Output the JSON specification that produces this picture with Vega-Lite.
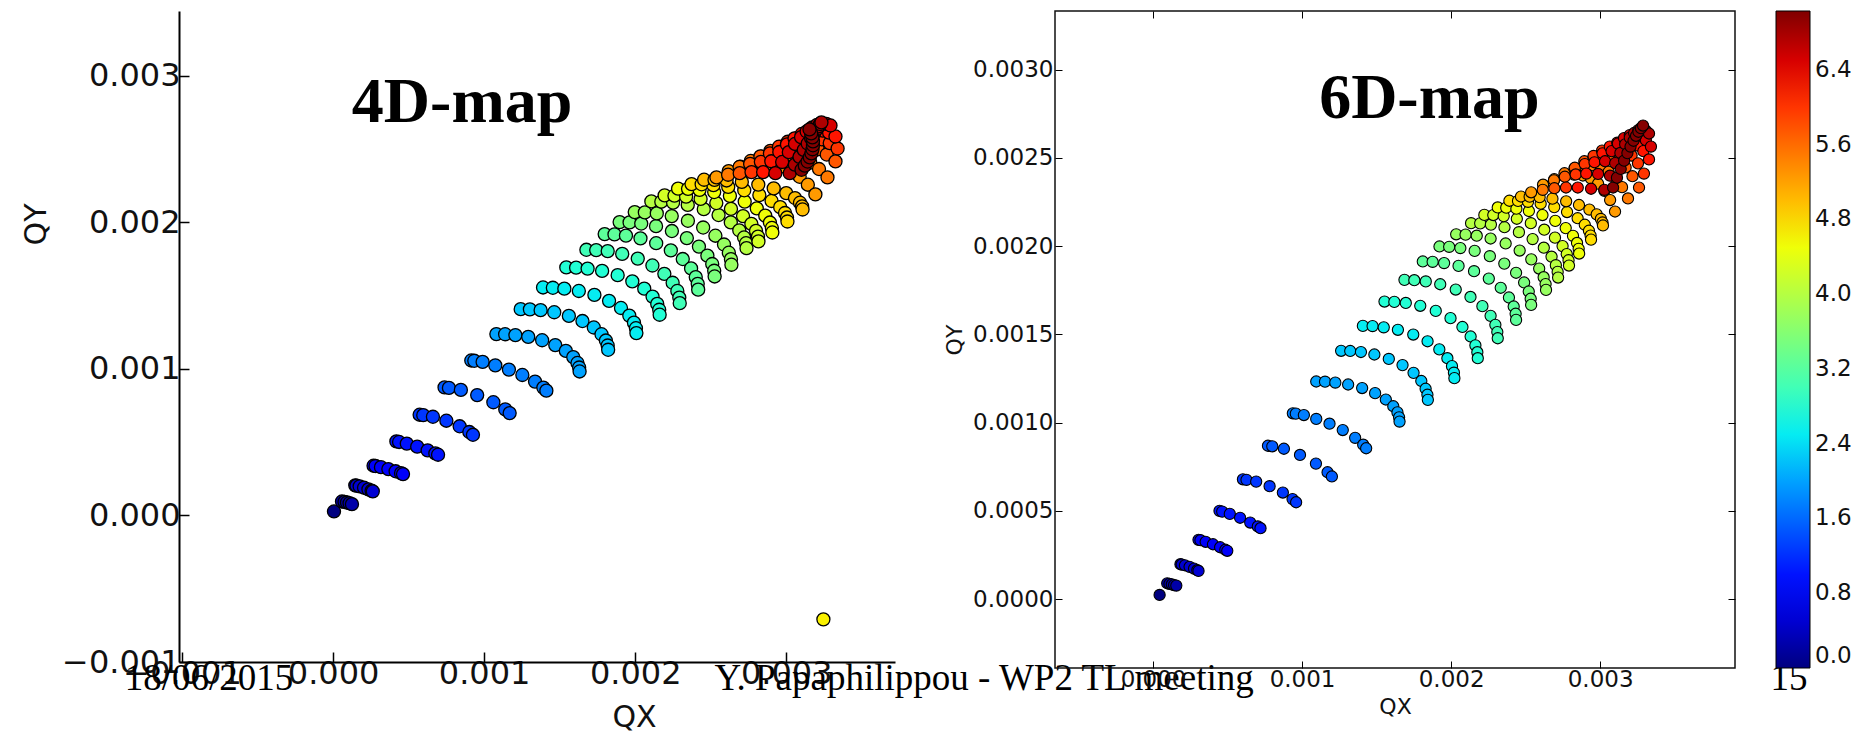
{
"$schema": "https://vega.github.io/schema/vega-lite/v6.json",
"background": "white",
"padding": {"left": 21, "top": 9, "right": 5, "bottom": 5},
"bounds": "flush",
"spacing": 160,
"config": {
  "view": {"stroke": null},
  "font": "DejaVu Sans",
  "axis": {"grid": false, "labelColor": "#111", "titleColor": "#111", "domainColor": "#000", "tickColor": "#000", "titleFontWeight": "normal", "labelFont": "DejaVu Sans", "titleFont": "DejaVu Sans"}
},
"resolve": {"scale": {"color": "independent"}, "legend": {"color": "independent"}},
"datasets": {
"m4": [
{"qx":0.006e-3,"qy":0.027e-3,"r":0},
{"qx":0.059e-3,"qy":0.095e-3,"r":0.25},{"qx":0.076e-3,"qy":0.092e-3,"r":0.25},{"qx":0.092e-3,"qy":0.088e-3,"r":0.25},{"qx":0.109e-3,"qy":0.083e-3,"r":0.25},{"qx":0.125e-3,"qy":0.077e-3,"r":0.25},
{"qx":0.147e-3,"qy":0.205e-3,"r":0.5},{"qx":0.155e-3,"qy":0.203e-3,"r":0.5},{"qx":0.176e-3,"qy":0.198e-3,"r":0.5},{"qx":0.205e-3,"qy":0.189e-3,"r":0.5},{"qx":0.234e-3,"qy":0.178e-3,"r":0.5},{"qx":0.255e-3,"qy":0.168e-3,"r":0.5},{"qx":0.263e-3,"qy":0.164e-3,"r":0.5},
{"qx":0.268e-3,"qy":0.339e-3,"r":0.75},{"qx":0.281e-3,"qy":0.337e-3,"r":0.75},{"qx":0.317e-3,"qy":0.329e-3,"r":0.75},{"qx":0.366e-3,"qy":0.316e-3,"r":0.75},{"qx":0.414e-3,"qy":0.301e-3,"r":0.75},{"qx":0.450e-3,"qy":0.288e-3,"r":0.75},{"qx":0.463e-3,"qy":0.282e-3,"r":0.75},
{"qx":0.419e-3,"qy":0.505e-3,"r":1},{"qx":0.437e-3,"qy":0.501e-3,"r":1},{"qx":0.488e-3,"qy":0.490e-3,"r":1},{"qx":0.557e-3,"qy":0.469e-3,"r":1},{"qx":0.626e-3,"qy":0.444e-3,"r":1},{"qx":0.677e-3,"qy":0.423e-3,"r":1},{"qx":0.695e-3,"qy":0.414e-3,"r":1},
{"qx":0.573e-3,"qy":0.687e-3,"r":1.25},{"qx":0.597e-3,"qy":0.684e-3,"r":1.25},{"qx":0.661e-3,"qy":0.673e-3,"r":1.25},{"qx":0.750e-3,"qy":0.646e-3,"r":1.25},{"qx":0.838e-3,"qy":0.608e-3,"r":1.25},{"qx":0.902e-3,"qy":0.569e-3,"r":1.25},{"qx":0.926e-3,"qy":0.550e-3,"r":1.25},
{"qx":0.738e-3,"qy":0.873e-3,"r":1.5},{"qx":0.767e-3,"qy":0.870e-3,"r":1.5},{"qx":0.846e-3,"qy":0.856e-3,"r":1.5},{"qx":0.954e-3,"qy":0.821e-3,"r":1.5},{"qx":1.061e-3,"qy":0.772e-3,"r":1.5},{"qx":1.140e-3,"qy":0.723e-3,"r":1.5},{"qx":1.169e-3,"qy":0.698e-3,"r":1.5},
{"qx":0.915e-3,"qy":1.057e-3,"r":1.75},{"qx":0.935e-3,"qy":1.055e-3,"r":1.75},{"qx":0.990e-3,"qy":1.047e-3,"r":1.75},{"qx":1.074e-3,"qy":1.024e-3,"r":1.75},{"qx":1.164e-3,"qy":0.995e-3,"r":1.75},{"qx":1.253e-3,"qy":0.958e-3,"r":1.75},{"qx":1.337e-3,"qy":0.913e-3,"r":1.75},{"qx":1.392e-3,"qy":0.872e-3,"r":1.75},{"qx":1.412e-3,"qy":0.851e-3,"r":1.75},
{"qx":1.081e-3,"qy":1.237e-3,"r":2},{"qx":1.139e-3,"qy":1.236e-3,"r":2},{"qx":1.207e-3,"qy":1.230e-3,"r":2},{"qx":1.292e-3,"qy":1.218e-3,"r":2},{"qx":1.384e-3,"qy":1.195e-3,"r":2},{"qx":1.471e-3,"qy":1.162e-3,"r":2},{"qx":1.541e-3,"qy":1.122e-3,"r":2},{"qx":1.590e-3,"qy":1.080e-3,"r":2},{"qx":1.618e-3,"qy":1.040e-3,"r":2},{"qx":1.629e-3,"qy":1.009e-3,"r":2},{"qx":1.632e-3,"qy":0.982e-3,"r":2},
{"qx":1.242e-3,"qy":1.407e-3,"r":2.25},{"qx":1.303e-3,"qy":1.406e-3,"r":2.25},{"qx":1.374e-3,"qy":1.400e-3,"r":2.25},{"qx":1.464e-3,"qy":1.386e-3,"r":2.25},{"qx":1.561e-3,"qy":1.361e-3,"r":2.25},{"qx":1.651e-3,"qy":1.326e-3,"r":2.25},{"qx":1.726e-3,"qy":1.282e-3,"r":2.25},{"qx":1.777e-3,"qy":1.236e-3,"r":2.25},{"qx":1.806e-3,"qy":1.193e-3,"r":2.25},{"qx":1.818e-3,"qy":1.159e-3,"r":2.25},{"qx":1.821e-3,"qy":1.130e-3,"r":2.25},
{"qx":1.390e-3,"qy":1.555e-3,"r":2.5},{"qx":1.455e-3,"qy":1.553e-3,"r":2.5},{"qx":1.531e-3,"qy":1.547e-3,"r":2.5},{"qx":1.627e-3,"qy":1.531e-3,"r":2.5},{"qx":1.730e-3,"qy":1.504e-3,"r":2.5},{"qx":1.827e-3,"qy":1.464e-3,"r":2.5},{"qx":1.906e-3,"qy":1.415e-3,"r":2.5},{"qx":1.961e-3,"qy":1.363e-3,"r":2.5},{"qx":1.992e-3,"qy":1.315e-3,"r":2.5},{"qx":2.005e-3,"qy":1.277e-3,"r":2.5},{"qx":2.008e-3,"qy":1.244e-3,"r":2.5},
{"qx":1.544e-3,"qy":1.692e-3,"r":2.75},{"qx":1.609e-3,"qy":1.690e-3,"r":2.75},{"qx":1.685e-3,"qy":1.684e-3,"r":2.75},{"qx":1.781e-3,"qy":1.668e-3,"r":2.75},{"qx":1.884e-3,"qy":1.639e-3,"r":2.75},{"qx":1.981e-3,"qy":1.597e-3,"r":2.75},{"qx":2.060e-3,"qy":1.547e-3,"r":2.75},{"qx":2.115e-3,"qy":1.493e-3,"r":2.75},{"qx":2.146e-3,"qy":1.443e-3,"r":2.75},{"qx":2.159e-3,"qy":1.403e-3,"r":2.75},{"qx":2.162e-3,"qy":1.369e-3,"r":2.75},
{"qx":1.677e-3,"qy":1.812e-3,"r":3},{"qx":1.742e-3,"qy":1.810e-3,"r":3},{"qx":1.818e-3,"qy":1.803e-3,"r":3},{"qx":1.914e-3,"qy":1.784e-3,"r":3},{"qx":2.017e-3,"qy":1.752e-3,"r":3},{"qx":2.114e-3,"qy":1.705e-3,"r":3},{"qx":2.193e-3,"qy":1.648e-3,"r":3},{"qx":2.248e-3,"qy":1.587e-3,"r":3},{"qx":2.279e-3,"qy":1.531e-3,"r":3},{"qx":2.292e-3,"qy":1.486e-3,"r":3},{"qx":2.295e-3,"qy":1.448e-3,"r":3},
{"qx":1.798e-3,"qy":1.919e-3,"r":3.25},{"qx":1.863e-3,"qy":1.917e-3,"r":3.25},{"qx":1.939e-3,"qy":1.909e-3,"r":3.25},{"qx":2.035e-3,"qy":1.890e-3,"r":3.25},{"qx":2.139e-3,"qy":1.857e-3,"r":3.25},{"qx":2.236e-3,"qy":1.808e-3,"r":3.25},{"qx":2.315e-3,"qy":1.749e-3,"r":3.25},{"qx":2.370e-3,"qy":1.685e-3,"r":3.25},{"qx":2.401e-3,"qy":1.626e-3,"r":3.25},{"qx":2.414e-3,"qy":1.580e-3,"r":3.25},{"qx":2.417e-3,"qy":1.540e-3,"r":3.25},
{"qx":1.897e-3,"qy":2.001e-3,"r":3.5},{"qx":1.963e-3,"qy":1.999e-3,"r":3.5},{"qx":2.040e-3,"qy":1.991e-3,"r":3.5},{"qx":2.138e-3,"qy":1.973e-3,"r":3.5},{"qx":2.243e-3,"qy":1.940e-3,"r":3.5},{"qx":2.342e-3,"qy":1.892e-3,"r":3.5},{"qx":2.422e-3,"qy":1.834e-3,"r":3.5},{"qx":2.478e-3,"qy":1.772e-3,"r":3.5},{"qx":2.510e-3,"qy":1.715e-3,"r":3.5},{"qx":2.523e-3,"qy":1.669e-3,"r":3.5},{"qx":2.526e-3,"qy":1.630e-3,"r":3.5},
{"qx":1.997e-3,"qy":2.069e-3,"r":3.75},{"qx":2.064e-3,"qy":2.067e-3,"r":3.75},{"qx":2.143e-3,"qy":2.060e-3,"r":3.75},{"qx":2.242e-3,"qy":2.042e-3,"r":3.75},{"qx":2.349e-3,"qy":2.010e-3,"r":3.75},{"qx":2.450e-3,"qy":1.964e-3,"r":3.75},{"qx":2.531e-3,"qy":1.908e-3,"r":3.75},{"qx":2.588e-3,"qy":1.848e-3,"r":3.75},{"qx":2.620e-3,"qy":1.792e-3,"r":3.75},{"qx":2.634e-3,"qy":1.748e-3,"r":3.75},{"qx":2.637e-3,"qy":1.710e-3,"r":3.75},
{"qx":2.107e-3,"qy":2.142e-3,"r":4},{"qx":2.173e-3,"qy":2.140e-3,"r":4},{"qx":2.251e-3,"qy":2.134e-3,"r":4},{"qx":2.348e-3,"qy":2.118e-3,"r":4},{"qx":2.454e-3,"qy":2.089e-3,"r":4},{"qx":2.552e-3,"qy":2.049e-3,"r":4},{"qx":2.633e-3,"qy":1.999e-3,"r":4},{"qx":2.689e-3,"qy":1.945e-3,"r":4},{"qx":2.721e-3,"qy":1.896e-3,"r":4},{"qx":2.734e-3,"qy":1.857e-3,"r":4},{"qx":2.737e-3,"qy":1.823e-3,"r":4},
{"qx":2.195e-3,"qy":2.183e-3,"r":4.25},{"qx":2.260e-3,"qy":2.181e-3,"r":4.25},{"qx":2.337e-3,"qy":2.175e-3,"r":4.25},{"qx":2.433e-3,"qy":2.159e-3,"r":4.25},{"qx":2.537e-3,"qy":2.131e-3,"r":4.25},{"qx":2.634e-3,"qy":2.091e-3,"r":4.25},{"qx":2.714e-3,"qy":2.042e-3,"r":4.25},{"qx":2.769e-3,"qy":1.989e-3,"r":4.25},{"qx":2.800e-3,"qy":1.941e-3,"r":4.25},{"qx":2.813e-3,"qy":1.902e-3,"r":4.25},{"qx":2.816e-3,"qy":1.869e-3,"r":4.25},
{"qx":2.284e-3,"qy":2.229e-3,"r":4.5},{"qx":2.350e-3,"qy":2.228e-3,"r":4.5},{"qx":2.426e-3,"qy":2.221e-3,"r":4.5},{"qx":2.523e-3,"qy":2.206e-3,"r":4.5},{"qx":2.627e-3,"qy":2.180e-3,"r":4.5},{"qx":2.725e-3,"qy":2.141e-3,"r":4.5},{"qx":2.805e-3,"qy":2.095e-3,"r":4.5},{"qx":2.861e-3,"qy":2.045e-3,"r":4.5},{"qx":2.892e-3,"qy":1.998e-3,"r":4.5},{"qx":2.905e-3,"qy":1.961e-3,"r":4.5},{"qx":2.908e-3,"qy":1.930e-3,"r":4.5},
{"qx":2.373e-3,"qy":2.260e-3,"r":4.75},{"qx":2.440e-3,"qy":2.259e-3,"r":4.75},{"qx":2.518e-3,"qy":2.253e-3,"r":4.75},{"qx":2.616e-3,"qy":2.241e-3,"r":4.75},{"qx":2.722e-3,"qy":2.218e-3,"r":4.75},{"qx":2.822e-3,"qy":2.185e-3,"r":4.75},{"qx":2.903e-3,"qy":2.145e-3,"r":4.75},{"qx":2.960e-3,"qy":2.103e-3,"r":4.75},{"qx":2.992e-3,"qy":2.063e-3,"r":4.75},{"qx":3.005e-3,"qy":2.032e-3,"r":4.75},{"qx":3.008e-3,"qy":2.005e-3,"r":4.75},
{"qx":2.456e-3,"qy":2.290e-3,"r":5},{"qx":2.525e-3,"qy":2.289e-3,"r":5},{"qx":2.605e-3,"qy":2.285e-3,"r":5},{"qx":2.706e-3,"qy":2.275e-3,"r":5},{"qx":2.815e-3,"qy":2.257e-3,"r":5},{"qx":2.917e-3,"qy":2.231e-3,"r":5},{"qx":3.000e-3,"qy":2.199e-3,"r":5},{"qx":3.058e-3,"qy":2.165e-3,"r":5},{"qx":3.091e-3,"qy":2.133e-3,"r":5},{"qx":3.105e-3,"qy":2.108e-3,"r":5},{"qx":3.108e-3,"qy":2.087e-3,"r":5},
{"qx":2.538e-3,"qy":2.306e-3,"r":5.25},{"qx":2.619e-3,"qy":2.349e-3,"r":5.25},{"qx":2.696e-3,"qy":2.379e-3,"r":5.25},{"qx":2.770e-3,"qy":2.398e-3,"r":5.25},{"qx":2.841e-3,"qy":2.405e-3,"r":5.25},{"qx":2.908e-3,"qy":2.399e-3,"r":5.25},{"qx":2.972e-3,"qy":2.381e-3,"r":5.25},{"qx":3.032e-3,"qy":2.352e-3,"r":5.25},{"qx":3.089e-3,"qy":2.310e-3,"r":5.25},{"qx":3.143e-3,"qy":2.256e-3,"r":5.25},{"qx":3.193e-3,"qy":2.190e-3,"r":5.25},
{"qx":2.615e-3,"qy":2.324e-3,"r":5.5},{"qx":2.691e-3,"qy":2.377e-3,"r":5.5},{"qx":2.765e-3,"qy":2.418e-3,"r":5.5},{"qx":2.836e-3,"qy":2.447e-3,"r":5.5},{"qx":2.905e-3,"qy":2.463e-3,"r":5.5},{"qx":2.972e-3,"qy":2.468e-3,"r":5.5},{"qx":3.037e-3,"qy":2.460e-3,"r":5.5},{"qx":3.099e-3,"qy":2.440e-3,"r":5.5},{"qx":3.159e-3,"qy":2.407e-3,"r":5.5},{"qx":3.217e-3,"qy":2.363e-3,"r":5.5},{"qx":3.273e-3,"qy":2.306e-3,"r":5.5},
{"qx":2.692e-3,"qy":2.335e-3,"r":5.75},{"qx":2.761e-3,"qy":2.398e-3,"r":5.75},{"qx":2.829e-3,"qy":2.449e-3,"r":5.75},{"qx":2.895e-3,"qy":2.487e-3,"r":5.75},{"qx":2.961e-3,"qy":2.513e-3,"r":5.75},{"qx":3.025e-3,"qy":2.528e-3,"r":5.75},{"qx":3.087e-3,"qy":2.529e-3,"r":5.75},{"qx":3.149e-3,"qy":2.519e-3,"r":5.75},{"qx":3.209e-3,"qy":2.497e-3,"r":5.75},{"qx":3.268e-3,"qy":2.462e-3,"r":5.75},{"qx":3.326e-3,"qy":2.415e-3,"r":5.75},
{"qx":2.770e-3,"qy":2.342e-3,"r":6},{"qx":2.832e-3,"qy":2.412e-3,"r":6},{"qx":2.892e-3,"qy":2.469e-3,"r":6},{"qx":2.952e-3,"qy":2.515e-3,"r":6},{"qx":3.010e-3,"qy":2.549e-3,"r":6},{"qx":3.068e-3,"qy":2.571e-3,"r":6},{"qx":3.124e-3,"qy":2.581e-3,"r":6},{"qx":3.180e-3,"qy":2.580e-3,"r":6},{"qx":3.234e-3,"qy":2.566e-3,"r":6},{"qx":3.288e-3,"qy":2.540e-3,"r":6},{"qx":3.340e-3,"qy":2.503e-3,"r":6},
{"qx":2.847e-3,"qy":2.342e-3,"r":6.25},{"qx":2.901e-3,"qy":2.416e-3,"r":6.25},{"qx":2.954e-3,"qy":2.479e-3,"r":6.25},{"qx":3.005e-3,"qy":2.531e-3,"r":6.25},{"qx":3.055e-3,"qy":2.572e-3,"r":6.25},{"qx":3.103e-3,"qy":2.602e-3,"r":6.25},{"qx":3.151e-3,"qy":2.621e-3,"r":6.25},{"qx":3.196e-3,"qy":2.628e-3,"r":6.25},{"qx":3.241e-3,"qy":2.625e-3,"r":6.25},{"qx":3.284e-3,"qy":2.611e-3,"r":6.25},{"qx":3.326e-3,"qy":2.585e-3,"r":6.25},
{"qx":2.928e-3,"qy":2.335e-3,"r":6.5},{"qx":2.973e-3,"qy":2.411e-3,"r":6.5},{"qx":3.017e-3,"qy":2.478e-3,"r":6.5},{"qx":3.058e-3,"qy":2.534e-3,"r":6.5},{"qx":3.098e-3,"qy":2.581e-3,"r":6.5},{"qx":3.135e-3,"qy":2.619e-3,"r":6.5},{"qx":3.171e-3,"qy":2.646e-3,"r":6.5},{"qx":3.204e-3,"qy":2.664e-3,"r":6.5},{"qx":3.236e-3,"qy":2.673e-3,"r":6.5},{"qx":3.265e-3,"qy":2.671e-3,"r":6.5},{"qx":3.293e-3,"qy":2.660e-3,"r":6.5},
{"qx":3.023e-3,"qy":2.335e-3,"r":6.75},{"qx":3.057e-3,"qy":2.393e-3,"r":6.75},{"qx":3.088e-3,"qy":2.446e-3,"r":6.75},{"qx":3.116e-3,"qy":2.494e-3,"r":6.75},{"qx":3.142e-3,"qy":2.537e-3,"r":6.75},{"qx":3.164e-3,"qy":2.574e-3,"r":6.75},{"qx":3.184e-3,"qy":2.606e-3,"r":6.75},{"qx":3.200e-3,"qy":2.633e-3,"r":6.75},{"qx":3.214e-3,"qy":2.654e-3,"r":6.75},{"qx":3.225e-3,"qy":2.670e-3,"r":6.75},{"qx":3.233e-3,"qy":2.681e-3,"r":6.75},
{"qx":3.101e-3,"qy":2.358e-3,"r":7},{"qx":3.123e-3,"qy":2.386e-3,"r":7},{"qx":3.141e-3,"qy":2.414e-3,"r":7},{"qx":3.156e-3,"qy":2.442e-3,"r":7},{"qx":3.167e-3,"qy":2.470e-3,"r":7},{"qx":3.174e-3,"qy":2.498e-3,"r":7},{"qx":3.177e-3,"qy":2.525e-3,"r":7},{"qx":3.177e-3,"qy":2.552e-3,"r":7},{"qx":3.173e-3,"qy":2.579e-3,"r":7},{"qx":3.165e-3,"qy":2.606e-3,"r":7},{"qx":3.154e-3,"qy":2.633e-3,"r":7},
{"qx":3.246e-3,"qy":-0.709e-3,"r":4.6}
],
"m6": [
{"qx":0.044e-3,"qy":0.024e-3,"r":0},
{"qx":0.095e-3,"qy":0.090e-3,"r":0.25},{"qx":0.110e-3,"qy":0.087e-3,"r":0.25},{"qx":0.126e-3,"qy":0.084e-3,"r":0.25},{"qx":0.141e-3,"qy":0.080e-3,"r":0.25},{"qx":0.156e-3,"qy":0.077e-3,"r":0.25},
{"qx":0.184e-3,"qy":0.198e-3,"r":0.5},{"qx":0.192e-3,"qy":0.196e-3,"r":0.5},{"qx":0.214e-3,"qy":0.192e-3,"r":0.5},{"qx":0.245e-3,"qy":0.183e-3,"r":0.5},{"qx":0.275e-3,"qy":0.173e-3,"r":0.5},{"qx":0.297e-3,"qy":0.164e-3,"r":0.5},{"qx":0.305e-3,"qy":0.160e-3,"r":0.5},
{"qx":0.305e-3,"qy":0.336e-3,"r":0.75},{"qx":0.318e-3,"qy":0.334e-3,"r":0.75},{"qx":0.353e-3,"qy":0.325e-3,"r":0.75},{"qx":0.402e-3,"qy":0.311e-3,"r":0.75},{"qx":0.450e-3,"qy":0.294e-3,"r":0.75},{"qx":0.485e-3,"qy":0.280e-3,"r":0.75},{"qx":0.498e-3,"qy":0.274e-3,"r":0.75},
{"qx":0.446e-3,"qy":0.500e-3,"r":1},{"qx":0.464e-3,"qy":0.496e-3,"r":1},{"qx":0.515e-3,"qy":0.483e-3,"r":1},{"qx":0.584e-3,"qy":0.461e-3,"r":1},{"qx":0.652e-3,"qy":0.434e-3,"r":1},{"qx":0.703e-3,"qy":0.412e-3,"r":1},{"qx":0.721e-3,"qy":0.402e-3,"r":1},
{"qx":0.603e-3,"qy":0.679e-3,"r":1.25},{"qx":0.627e-3,"qy":0.676e-3,"r":1.25},{"qx":0.692e-3,"qy":0.666e-3,"r":1.25},{"qx":0.782e-3,"qy":0.640e-3,"r":1.25},{"qx":0.871e-3,"qy":0.604e-3,"r":1.25},{"qx":0.936e-3,"qy":0.567e-3,"r":1.25},{"qx":0.960e-3,"qy":0.549e-3,"r":1.25},
{"qx":0.771e-3,"qy":0.869e-3,"r":1.5},{"qx":0.800e-3,"qy":0.866e-3,"r":1.5},{"qx":0.878e-3,"qy":0.852e-3,"r":1.5},{"qx":0.986e-3,"qy":0.817e-3,"r":1.5},{"qx":1.093e-3,"qy":0.768e-3,"r":1.5},{"qx":1.171e-3,"qy":0.719e-3,"r":1.5},{"qx":1.200e-3,"qy":0.695e-3,"r":1.5},
{"qx":0.938e-3,"qy":1.053e-3,"r":1.75},{"qx":0.958e-3,"qy":1.051e-3,"r":1.75},{"qx":1.012e-3,"qy":1.043e-3,"r":1.75},{"qx":1.095e-3,"qy":1.021e-3,"r":1.75},{"qx":1.184e-3,"qy":0.994e-3,"r":1.75},{"qx":1.273e-3,"qy":0.958e-3,"r":1.75},{"qx":1.356e-3,"qy":0.914e-3,"r":1.75},{"qx":1.410e-3,"qy":0.875e-3,"r":1.75},{"qx":1.430e-3,"qy":0.855e-3,"r":1.75},
{"qx":1.095e-3,"qy":1.233e-3,"r":2},{"qx":1.154e-3,"qy":1.232e-3,"r":2},{"qx":1.223e-3,"qy":1.227e-3,"r":2},{"qx":1.309e-3,"qy":1.216e-3,"r":2},{"qx":1.403e-3,"qy":1.196e-3,"r":2},{"qx":1.490e-3,"qy":1.167e-3,"r":2},{"qx":1.562e-3,"qy":1.131e-3,"r":2},{"qx":1.612e-3,"qy":1.093e-3,"r":2},{"qx":1.640e-3,"qy":1.058e-3,"r":2},{"qx":1.651e-3,"qy":1.030e-3,"r":2},{"qx":1.654e-3,"qy":1.006e-3,"r":2},
{"qx":1.262e-3,"qy":1.407e-3,"r":2.25},{"qx":1.323e-3,"qy":1.406e-3,"r":2.25},{"qx":1.395e-3,"qy":1.400e-3,"r":2.25},{"qx":1.485e-3,"qy":1.386e-3,"r":2.25},{"qx":1.582e-3,"qy":1.361e-3,"r":2.25},{"qx":1.674e-3,"qy":1.326e-3,"r":2.25},{"qx":1.748e-3,"qy":1.282e-3,"r":2.25},{"qx":1.800e-3,"qy":1.236e-3,"r":2.25},{"qx":1.829e-3,"qy":1.192e-3,"r":2.25},{"qx":1.841e-3,"qy":1.158e-3,"r":2.25},{"qx":1.844e-3,"qy":1.129e-3,"r":2.25},
{"qx":1.408e-3,"qy":1.548e-3,"r":2.5},{"qx":1.473e-3,"qy":1.547e-3,"r":2.5},{"qx":1.548e-3,"qy":1.540e-3,"r":2.5},{"qx":1.643e-3,"qy":1.526e-3,"r":2.5},{"qx":1.746e-3,"qy":1.499e-3,"r":2.5},{"qx":1.842e-3,"qy":1.461e-3,"r":2.5},{"qx":1.921e-3,"qy":1.415e-3,"r":2.5},{"qx":1.975e-3,"qy":1.365e-3,"r":2.5},{"qx":2.006e-3,"qy":1.320e-3,"r":2.5},{"qx":2.019e-3,"qy":1.283e-3,"r":2.5},{"qx":2.022e-3,"qy":1.252e-3,"r":2.5},
{"qx":1.553e-3,"qy":1.686e-3,"r":2.75},{"qx":1.619e-3,"qy":1.684e-3,"r":2.75},{"qx":1.696e-3,"qy":1.678e-3,"r":2.75},{"qx":1.793e-3,"qy":1.662e-3,"r":2.75},{"qx":1.897e-3,"qy":1.633e-3,"r":2.75},{"qx":1.996e-3,"qy":1.592e-3,"r":2.75},{"qx":2.076e-3,"qy":1.542e-3,"r":2.75},{"qx":2.131e-3,"qy":1.488e-3,"r":2.75},{"qx":2.163e-3,"qy":1.438e-3,"r":2.75},{"qx":2.176e-3,"qy":1.399e-3,"r":2.75},{"qx":2.179e-3,"qy":1.365e-3,"r":2.75},
{"qx":1.687e-3,"qy":1.809e-3,"r":3},{"qx":1.753e-3,"qy":1.807e-3,"r":3},{"qx":1.830e-3,"qy":1.800e-3,"r":3},{"qx":1.927e-3,"qy":1.784e-3,"r":3},{"qx":2.031e-3,"qy":1.754e-3,"r":3},{"qx":2.130e-3,"qy":1.712e-3,"r":3},{"qx":2.210e-3,"qy":1.660e-3,"r":3},{"qx":2.265e-3,"qy":1.605e-3,"r":3},{"qx":2.297e-3,"qy":1.554e-3,"r":3},{"qx":2.310e-3,"qy":1.513e-3,"r":3},{"qx":2.313e-3,"qy":1.478e-3,"r":3},
{"qx":1.810e-3,"qy":1.913e-3,"r":3.25},{"qx":1.876e-3,"qy":1.911e-3,"r":3.25},{"qx":1.953e-3,"qy":1.904e-3,"r":3.25},{"qx":2.050e-3,"qy":1.888e-3,"r":3.25},{"qx":2.154e-3,"qy":1.858e-3,"r":3.25},{"qx":2.253e-3,"qy":1.816e-3,"r":3.25},{"qx":2.333e-3,"qy":1.764e-3,"r":3.25},{"qx":2.388e-3,"qy":1.709e-3,"r":3.25},{"qx":2.420e-3,"qy":1.658e-3,"r":3.25},{"qx":2.433e-3,"qy":1.617e-3,"r":3.25},{"qx":2.436e-3,"qy":1.582e-3,"r":3.25},
{"qx":1.922e-3,"qy":1.998e-3,"r":3.5},{"qx":1.987e-3,"qy":1.996e-3,"r":3.5},{"qx":2.062e-3,"qy":1.989e-3,"r":3.5},{"qx":2.158e-3,"qy":1.973e-3,"r":3.5},{"qx":2.260e-3,"qy":1.943e-3,"r":3.5},{"qx":2.357e-3,"qy":1.901e-3,"r":3.5},{"qx":2.436e-3,"qy":1.849e-3,"r":3.5},{"qx":2.490e-3,"qy":1.794e-3,"r":3.5},{"qx":2.521e-3,"qy":1.743e-3,"r":3.5},{"qx":2.534e-3,"qy":1.702e-3,"r":3.5},{"qx":2.537e-3,"qy":1.667e-3,"r":3.5},
{"qx":2.034e-3,"qy":2.067e-3,"r":3.75},{"qx":2.097e-3,"qy":2.065e-3,"r":3.75},{"qx":2.172e-3,"qy":2.059e-3,"r":3.75},{"qx":2.265e-3,"qy":2.043e-3,"r":3.75},{"qx":2.366e-3,"qy":2.015e-3,"r":3.75},{"qx":2.460e-3,"qy":1.975e-3,"r":3.75},{"qx":2.538e-3,"qy":1.925e-3,"r":3.75},{"qx":2.591e-3,"qy":1.873e-3,"r":3.75},{"qx":2.621e-3,"qy":1.824e-3,"r":3.75},{"qx":2.634e-3,"qy":1.785e-3,"r":3.75},{"qx":2.637e-3,"qy":1.752e-3,"r":3.75},
{"qx":2.134e-3,"qy":2.130e-3,"r":4},{"qx":2.195e-3,"qy":2.129e-3,"r":4},{"qx":2.267e-3,"qy":2.122e-3,"r":4},{"qx":2.358e-3,"qy":2.107e-3,"r":4},{"qx":2.455e-3,"qy":2.079e-3,"r":4},{"qx":2.547e-3,"qy":2.040e-3,"r":4},{"qx":2.622e-3,"qy":1.991e-3,"r":4},{"qx":2.674e-3,"qy":1.940e-3,"r":4},{"qx":2.703e-3,"qy":1.892e-3,"r":4},{"qx":2.715e-3,"qy":1.854e-3,"r":4},{"qx":2.718e-3,"qy":1.822e-3,"r":4},
{"qx":2.223e-3,"qy":2.177e-3,"r":4.25},{"qx":2.283e-3,"qy":2.176e-3,"r":4.25},{"qx":2.353e-3,"qy":2.170e-3,"r":4.25},{"qx":2.441e-3,"qy":2.155e-3,"r":4.25},{"qx":2.535e-3,"qy":2.130e-3,"r":4.25},{"qx":2.625e-3,"qy":2.093e-3,"r":4.25},{"qx":2.697e-3,"qy":2.048e-3,"r":4.25},{"qx":2.748e-3,"qy":2.000e-3,"r":4.25},{"qx":2.776e-3,"qy":1.955e-3,"r":4.25},{"qx":2.788e-3,"qy":1.920e-3,"r":4.25},{"qx":2.791e-3,"qy":1.890e-3,"r":4.25},
{"qx":2.313e-3,"qy":2.219e-3,"r":4.5},{"qx":2.370e-3,"qy":2.218e-3,"r":4.5},{"qx":2.438e-3,"qy":2.212e-3,"r":4.5},{"qx":2.522e-3,"qy":2.199e-3,"r":4.5},{"qx":2.613e-3,"qy":2.176e-3,"r":4.5},{"qx":2.699e-3,"qy":2.143e-3,"r":4.5},{"qx":2.769e-3,"qy":2.102e-3,"r":4.5},{"qx":2.818e-3,"qy":2.058e-3,"r":4.5},{"qx":2.845e-3,"qy":2.018e-3,"r":4.5},{"qx":2.856e-3,"qy":1.985e-3,"r":4.5},{"qx":2.859e-3,"qy":1.958e-3,"r":4.5},
{"qx":2.391e-3,"qy":2.257e-3,"r":4.75},{"qx":2.449e-3,"qy":2.256e-3,"r":4.75},{"qx":2.516e-3,"qy":2.251e-3,"r":4.75},{"qx":2.601e-3,"qy":2.240e-3,"r":4.75},{"qx":2.692e-3,"qy":2.221e-3,"r":4.75},{"qx":2.778e-3,"qy":2.193e-3,"r":4.75},{"qx":2.849e-3,"qy":2.158e-3,"r":4.75},{"qx":2.897e-3,"qy":2.121e-3,"r":4.75},{"qx":2.925e-3,"qy":2.087e-3,"r":4.75},{"qx":2.936e-3,"qy":2.060e-3,"r":4.75},{"qx":2.939e-3,"qy":2.037e-3,"r":4.75},
{"qx":2.469e-3,"qy":2.281e-3,"r":5},{"qx":2.527e-3,"qy":2.280e-3,"r":5},{"qx":2.594e-3,"qy":2.277e-3,"r":5},{"qx":2.680e-3,"qy":2.269e-3,"r":5},{"qx":2.772e-3,"qy":2.254e-3,"r":5},{"qx":2.858e-3,"qy":2.233e-3,"r":5},{"qx":2.928e-3,"qy":2.207e-3,"r":5},{"qx":2.977e-3,"qy":2.180e-3,"r":5},{"qx":3.005e-3,"qy":2.154e-3,"r":5},{"qx":3.016e-3,"qy":2.134e-3,"r":5},{"qx":3.019e-3,"qy":2.117e-3,"r":5},
{"qx":2.537e-3,"qy":2.305e-3,"r":5.25},{"qx":2.617e-3,"qy":2.348e-3,"r":5.25},{"qx":2.692e-3,"qy":2.379e-3,"r":5.25},{"qx":2.761e-3,"qy":2.398e-3,"r":5.25},{"qx":2.825e-3,"qy":2.405e-3,"r":5.25},{"qx":2.884e-3,"qy":2.400e-3,"r":5.25},{"qx":2.938e-3,"qy":2.384e-3,"r":5.25},{"qx":2.986e-3,"qy":2.354e-3,"r":5.25},{"qx":3.029e-3,"qy":2.313e-3,"r":5.25},{"qx":3.067e-3,"qy":2.261e-3,"r":5.25},{"qx":3.100e-3,"qy":2.196e-3,"r":5.25},
{"qx":2.615e-3,"qy":2.319e-3,"r":5.5},{"qx":2.690e-3,"qy":2.373e-3,"r":5.5},{"qx":2.761e-3,"qy":2.413e-3,"r":5.5},{"qx":2.828e-3,"qy":2.440e-3,"r":5.5},{"qx":2.891e-3,"qy":2.456e-3,"r":5.5},{"qx":2.951e-3,"qy":2.458e-3,"r":5.5},{"qx":3.005e-3,"qy":2.446e-3,"r":5.5},{"qx":3.057e-3,"qy":2.421e-3,"r":5.5},{"qx":3.105e-3,"qy":2.384e-3,"r":5.5},{"qx":3.147e-3,"qy":2.334e-3,"r":5.5},{"qx":3.187e-3,"qy":2.270e-3,"r":5.5},
{"qx":2.693e-3,"qy":2.328e-3,"r":5.75},{"qx":2.763e-3,"qy":2.393e-3,"r":5.75},{"qx":2.830e-3,"qy":2.444e-3,"r":5.75},{"qx":2.894e-3,"qy":2.481e-3,"r":5.75},{"qx":2.955e-3,"qy":2.502e-3,"r":5.75},{"qx":3.013e-3,"qy":2.510e-3,"r":5.75},{"qx":3.069e-3,"qy":2.503e-3,"r":5.75},{"qx":3.121e-3,"qy":2.483e-3,"r":5.75},{"qx":3.171e-3,"qy":2.446e-3,"r":5.75},{"qx":3.217e-3,"qy":2.396e-3,"r":5.75},{"qx":3.261e-3,"qy":2.332e-3,"r":5.75},
{"qx":2.771e-3,"qy":2.332e-3,"r":6},{"qx":2.836e-3,"qy":2.406e-3,"r":6},{"qx":2.897e-3,"qy":2.465e-3,"r":6},{"qx":2.956e-3,"qy":2.511e-3,"r":6},{"qx":3.013e-3,"qy":2.541e-3,"r":6},{"qx":3.067e-3,"qy":2.556e-3,"r":6},{"qx":3.117e-3,"qy":2.556e-3,"r":6},{"qx":3.165e-3,"qy":2.542e-3,"r":6},{"qx":3.211e-3,"qy":2.513e-3,"r":6},{"qx":3.254e-3,"qy":2.469e-3,"r":6},{"qx":3.294e-3,"qy":2.411e-3,"r":6},
{"qx":2.850e-3,"qy":2.332e-3,"r":6.25},{"qx":2.907e-3,"qy":2.411e-3,"r":6.25},{"qx":2.962e-3,"qy":2.475e-3,"r":6.25},{"qx":3.016e-3,"qy":2.526e-3,"r":6.25},{"qx":3.065e-3,"qy":2.564e-3,"r":6.25},{"qx":3.115e-3,"qy":2.586e-3,"r":6.25},{"qx":3.161e-3,"qy":2.595e-3,"r":6.25},{"qx":3.207e-3,"qy":2.590e-3,"r":6.25},{"qx":3.249e-3,"qy":2.570e-3,"r":6.25},{"qx":3.290e-3,"qy":2.538e-3,"r":6.25},{"qx":3.328e-3,"qy":2.491e-3,"r":6.25},
{"qx":2.939e-3,"qy":2.325e-3,"r":6.5},{"qx":2.986e-3,"qy":2.409e-3,"r":6.5},{"qx":3.033e-3,"qy":2.481e-3,"r":6.5},{"qx":3.077e-3,"qy":2.538e-3,"r":6.5},{"qx":3.119e-3,"qy":2.581e-3,"r":6.5},{"qx":3.160e-3,"qy":2.612e-3,"r":6.5},{"qx":3.199e-3,"qy":2.629e-3,"r":6.5},{"qx":3.238e-3,"qy":2.633e-3,"r":6.5},{"qx":3.274e-3,"qy":2.624e-3,"r":6.5},{"qx":3.307e-3,"qy":2.600e-3,"r":6.5},{"qx":3.341e-3,"qy":2.564e-3,"r":6.5},
{"qx":3.028e-3,"qy":2.319e-3,"r":6.75},{"qx":3.066e-3,"qy":2.399e-3,"r":6.75},{"qx":3.101e-3,"qy":2.470e-3,"r":6.75},{"qx":3.136e-3,"qy":2.528e-3,"r":6.75},{"qx":3.168e-3,"qy":2.577e-3,"r":6.75},{"qx":3.199e-3,"qy":2.615e-3,"r":6.75},{"qx":3.228e-3,"qy":2.641e-3,"r":6.75},{"qx":3.256e-3,"qy":2.657e-3,"r":6.75},{"qx":3.281e-3,"qy":2.661e-3,"r":6.75},{"qx":3.306e-3,"qy":2.655e-3,"r":6.75},{"qx":3.328e-3,"qy":2.638e-3,"r":6.75},
{"qx":3.087e-3,"qy":2.332e-3,"r":7},{"qx":3.113e-3,"qy":2.388e-3,"r":7},{"qx":3.138e-3,"qy":2.437e-3,"r":7},{"qx":3.161e-3,"qy":2.484e-3,"r":7},{"qx":3.183e-3,"qy":2.527e-3,"r":7},{"qx":3.204e-3,"qy":2.564e-3,"r":7},{"qx":3.224e-3,"qy":2.597e-3,"r":7},{"qx":3.241e-3,"qy":2.625e-3,"r":7},{"qx":3.257e-3,"qy":2.648e-3,"r":7},{"qx":3.274e-3,"qy":2.668e-3,"r":7},{"qx":3.288e-3,"qy":2.683e-3,"r":7}
]
},
"hconcat": [
{
 "width": 716, "height": 651,
 "layer": [
  {
   "data": {"name": "m4"},
   "mark": {"type": "circle", "size": 170, "stroke": "#000", "strokeWidth": 1.3, "opacity": 1},
   "encoding": {
    "x": {"field": "qx", "type": "quantitative", "scale": {"domain": [-0.00102, 0.00372], "nice": false, "zero": false},
      "axis": {"title": "QX", "values": [-0.001, 0, 0.001, 0.002, 0.003], "format": ".3f", "labelFontSize": 32, "titleFontSize": 30, "tickSize": -10, "tickWidth": 1.5, "domainWidth": 2, "labelPadding": 6, "titleX": 455, "titleY": 55, "titleBaseline": "middle", "labelOverlap": false}},
    "y": {"field": "qy", "type": "quantitative", "scale": {"domain": [-0.001, 0.003441], "nice": false, "zero": false},
      "axis": {"title": "QY", "values": [-0.001, 0, 0.001, 0.002, 0.003], "format": ".3f", "labelFontSize": 32, "titleFontSize": 30, "tickSize": -10, "tickWidth": 1.5, "domainWidth": 2, "labelPadding": 9, "titleX": -143, "titleY": 213, "titleBaseline": "middle", "labelOverlap": false}},
    "color": {"field": "r", "type": "quantitative",
      "scale": {"domain": [0, 0.773, 0.879, 2.390, 2.461, 2.636, 4.499, 4.570, 4.640, 6.257, 6.397, 7.03], "range": ["#000080", "#0000ff", "#0000ff", "#00dbff", "#00e6f7", "#15ffe2", "#efff08", "#f7f500", "#ffec00", "#ff1300", "#e80000", "#800000"], "interpolate": "rgb"},
      "legend": null}
   }
  },
  {
   "data": {"values": [{}]},
   "mark": {"type": "text", "text": "4D-map", "font": "Liberation Serif", "fontWeight": "bold", "fontSize": 64, "align": "center", "baseline": "alphabetic", "color": "#000"},
   "encoding": {"x": {"datum": 0.000854, "type": "quantitative"}, "y": {"datum": 0.002687, "type": "quantitative"}}
  },
  {
   "data": {"values": [{}]},
   "mark": {"type": "text", "text": "18/06/2015", "font": "Liberation Serif", "fontSize": 37, "align": "center", "baseline": "alphabetic", "color": "#000"},
   "encoding": {"x": {"datum": -0.000821, "type": "quantitative"}, "y": {"datum": -0.001194, "type": "quantitative"}}
  },
  {
   "data": {"values": [{}]},
   "mark": {"type": "text", "text": "Y. Papaphilippou - WP2 TL meeting", "font": "Liberation Serif", "fontSize": 37, "align": "center", "baseline": "alphabetic", "color": "#000"},
   "encoding": {"x": {"datum": 0.004310, "type": "quantitative"}, "y": {"datum": -0.001194, "type": "quantitative"}}
  },
  {
   "data": {"values": [{}]},
   "mark": {"type": "text", "text": "15", "font": "Liberation Serif", "fontSize": 37, "align": "center", "baseline": "alphabetic", "color": "#000"},
   "encoding": {"x": {"datum": 0.009639, "type": "quantitative"}, "y": {"datum": -0.001194, "type": "quantitative"}}
  }
 ]
},
{
 "width": 680, "height": 657,
 "view": {"stroke": "#111", "strokeWidth": 1.5},
 "resolve": {"axis": {"x": "independent", "y": "independent"}},
 "layer": [
  {
   "data": {"name": "m6"},
   "mark": {"type": "circle", "size": 125, "stroke": "#000", "strokeWidth": 1.1, "opacity": 1},
   "encoding": {
    "x": {"field": "qx", "type": "quantitative", "scale": {"domain": [-0.000658, 0.003905], "nice": false, "zero": false},
      "axis": {"title": "QX", "values": [0, 0.001, 0.002, 0.003], "format": ".3f", "labelFontSize": 23, "titleFontSize": 22, "tickSize": -7, "tickWidth": 1, "domain": false, "labelPadding": 7, "titlePadding": 5, "labelOverlap": false}},
    "y": {"field": "qy", "type": "quantitative", "scale": {"domain": [-0.00039, 0.003332], "nice": false, "zero": false},
      "axis": {"title": "QY", "values": [0, 0.0005, 0.001, 0.0015, 0.002, 0.0025, 0.003], "format": ".4f", "labelFontSize": 23, "titleFontSize": 22, "tickSize": -7, "tickWidth": 1, "domain": false, "labelPadding": 9, "titlePadding": 6, "labelOverlap": false}},
    "color": {"field": "r", "type": "quantitative",
      "scale": {"domain": [0, 0.773, 0.879, 2.390, 2.461, 2.636, 4.499, 4.570, 4.640, 6.257, 6.397, 7.03], "range": ["#000080", "#0000ff", "#0000ff", "#00dbff", "#00e6f7", "#15ffe2", "#efff08", "#f7f500", "#ffec00", "#ff1300", "#e80000", "#800000"], "interpolate": "rgb"},
      "legend": {"title": null, "orient": "right", "offset": 40, "type": "gradient", "direction": "vertical", "gradientLength": 657, "gradientThickness": 34, "values": [0, 0.8, 1.6, 2.4, 3.2, 4.0, 4.8, 5.6, 6.4], "format": ".1f", "labelFontSize": 23, "labelFont": "DejaVu Sans", "labelColor": "#111", "labelOffset": 5, "labelBaseline": "middle", "labelOverlap": false, "gradientStrokeColor": "#000", "gradientStrokeWidth": 1, "padding": 0}}
   }
  },
  {
   "data": {"values": [{}]},
   "mark": {"type": "text", "text": "6D-map", "font": "Liberation Serif", "fontWeight": "bold", "fontSize": 64, "align": "center", "baseline": "alphabetic", "color": "#000"},
   "encoding": {
     "x": {"datum": 0.001854, "type": "quantitative", "axis": {"orient": "top", "title": null, "labels": false, "domain": false, "values": [0, 0.001, 0.002, 0.003], "tickSize": -7, "tickWidth": 1}},
     "y": {"datum": 0.002723, "type": "quantitative", "axis": {"orient": "right", "title": null, "labels": false, "domain": false, "values": [0, 0.0005, 0.001, 0.0015, 0.002, 0.0025, 0.003], "tickSize": -7, "tickWidth": 1}}
   }
  }
 ]
}
]
}
